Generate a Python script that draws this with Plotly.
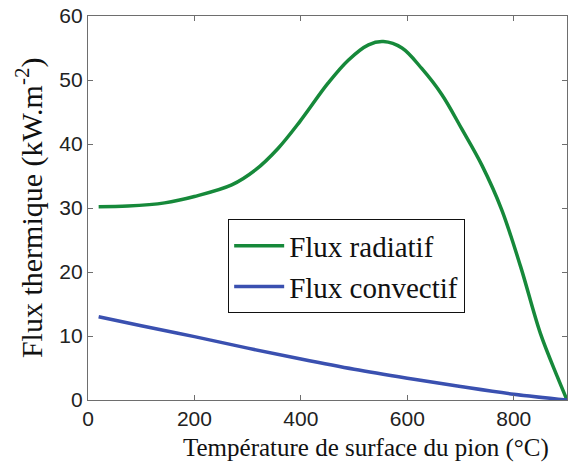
import plotly.graph_objects as go

# Flux radiatif (green curve)
temp_rad = [20, 75, 144, 200, 270, 314, 357, 398, 451, 489, 527, 555, 590, 627, 665, 702, 740, 777, 813, 850, 882, 900]
flux_rad = [30.2, 30.3, 30.8, 31.8, 33.6, 35.9, 39.3, 43.5, 49.5, 53.1, 55.5, 56.0, 55.0, 51.8, 47.7, 42.4, 36.7, 29.8, 20.8, 10.4, 3.6, 0.0]

# Flux convectif (blue curve)
temp_conv = [20, 100, 200, 300, 400, 500, 600, 700, 800, 900]
flux_conv = [13.0, 11.6, 9.9, 8.1, 6.4, 4.8, 3.4, 2.1, 0.9, 0.0]

x_ticks = [0, 200, 400, 600, 800]
y_ticks = [0, 10, 20, 30, 40, 50, 60]

serif = "Liberation Serif, Times New Roman, serif"
sans = "Liberation Sans, Arial, sans-serif"

fig = go.Figure()
fig.add_trace(go.Scatter(x=temp_rad, y=flux_rad, mode="lines", name="Flux radiatif",
                         line=dict(color="#16893a", width=3.5, shape="spline")))
fig.add_trace(go.Scatter(x=temp_conv, y=flux_conv, mode="lines", name="Flux convectif",
                         line=dict(color="#3a50b0", width=3.5, shape="spline")))

axis_common = dict(showline=True, linecolor="#6e6e6e", linewidth=1.3, mirror="allticks",
                   ticks="inside", ticklen=5, tickcolor="#6e6e6e", showgrid=False,
                   zeroline=False, automargin=False, ticklabeloverflow="allow",
                   tickfont=dict(family=sans, size=21, color="#222"))

fig.update_xaxes(range=[0, 900], tickvals=x_ticks, **axis_common)
fig.update_yaxes(range=[0, 60], tickvals=y_ticks, **axis_common)

fig.add_annotation(text="Flux thermique (kW.m<sup>-2</sup>)", xref="paper", yref="paper",
                   x=-0.123, y=0.5, xanchor="center", yanchor="middle", textangle=-90,
                   showarrow=False, font=dict(family=serif, size=30, color="#111"))
fig.add_annotation(text="Température de surface du pion (°C)", xref="paper", yref="paper",
                   x=0.58, y=-0.125, xanchor="center", yanchor="middle", showarrow=False,
                   font=dict(family=serif, size=25, color="#111"))

fig.update_layout(
    width=569, height=463,
    margin=dict(l=88, r=2, t=16, b=63),
    paper_bgcolor="white", plot_bgcolor="white",
    showlegend=True,
    legend=dict(x=0.292, y=0.471, xanchor="left", yanchor="top",
                bordercolor="#111", borderwidth=1.3, bgcolor="white",
                font=dict(family=serif, size=29, color="#111"),
                tracegroupgap=0, itemwidth=50),
)

# drop the default 8px page margin so the figure sits at the window origin
fig.write_html("out.html", config={"displayModeBar": False},
               post_script="document.body.style.margin='0';document.body.style.overflow='hidden';")
